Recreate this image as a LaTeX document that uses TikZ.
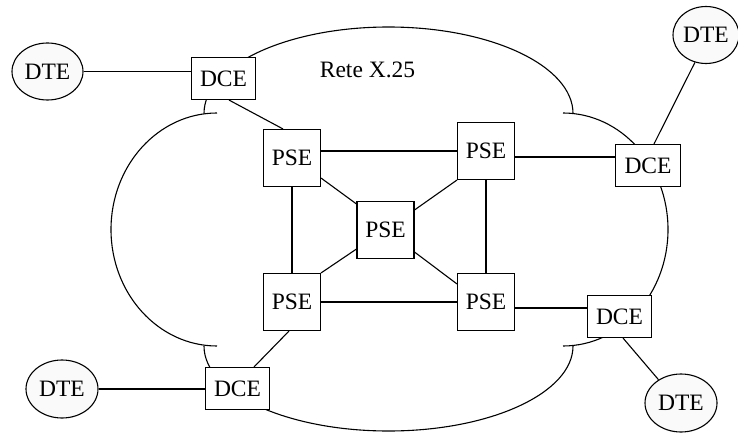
\documentclass[tikz,border=0pt]{standalone}
\usepackage{fontspec}
\setmainfont{Liberation Serif}
\usetikzlibrary{shapes.geometric}
\begin{document}
\begin{tikzpicture}[x=1pt,y=1pt,line width=1.1pt,
  every node/.style={font=\fontsize{23.5}{26}\selectfont, inner sep=0pt},
  dce/.style={draw, fill=white, minimum width=64pt, minimum height=42pt},
  pse/.style={draw, fill=white, minimum width=57pt, minimum height=57pt},
  dte/.style={draw, ellipse, fill=gray!4, minimum width=71pt, minimum height=57pt}]
\clip (0,0) rectangle (738,432);
\useasboundingbox (0,0) rectangle (738,432);
% cloud
\draw (204,318.5) arc[start angle=180,end angle=0,x radius=184.5,y radius=86.5];
\draw (204,86) arc[start angle=180,end angle=360,x radius=184.5,y radius=85];
\draw (217,319) arc[start angle=90,end angle=270,x radius=106,y radius=116.5];
\draw (563,319) arc[start angle=90,end angle=-90,x radius=105,y radius=116.5];
% nodes
\node[dte] (DTE1) at (47.5,360.5) {DTE};
\node[dce] (DCE1) at (223.5,353.5) {DCE};
\node[anchor=base] (lbl) at (367.5,354) {Rete X.25};
\node[pse] (PSE1) at (292,274) {PSE};
\node[pse] (PSE2) at (486,281) {PSE};
\node[pse] (PSE3) at (385.5,202) {PSE};
\node[pse] (PSE4) at (292,130) {PSE};
\node[pse] (PSE5) at (486,130) {PSE};
\node[dce, minimum width=65pt] (DCE2) at (648,266.5) {DCE};
\node[dte, minimum width=66pt] (DTE2) at (706,397) {DTE};
\node[dce] (DCE3) at (619.5,115.5) {DCE};
\node[dte, minimum width=72pt, minimum height=58pt] (DTE3) at (681,29) {DTE};
\node[dce] (DCE4) at (237.5,43.5) {DCE};
\node[dte, minimum width=72pt, minimum height=58pt] (DTE4) at (62,43) {DTE};
% connectors
\coordinate (p2e) at ([yshift=-6pt]PSE2.east);
\coordinate (p5e) at ([yshift=-6pt]PSE5.east);
\draw (DTE1.east) -- (DTE1.east -| DCE1.west);
\draw ([xshift=5.5pt]DCE1.south) -- ([xshift=-9pt]PSE1.north);
\draw (PSE2.west -| PSE1.east) -- (PSE2.west);
\draw (PSE1.south) -- (PSE4.north);
\draw ([yshift=9pt]PSE1.south east) -- ([yshift=-3pt]PSE3.north west);
\draw (PSE2.south west) -- ([yshift=-9pt]PSE3.north east);
\draw (PSE2.south) -- (PSE5.north);
\draw (p2e) -- (p2e -| DCE2.west);
\draw ([xshift=6pt]DCE2.north) -- (DTE2.248);
\draw ([yshift=10pt]PSE3.south west) -- (PSE4.north east);
\draw ([yshift=7pt]PSE3.south east) -- ([yshift=-11pt]PSE5.north west);
\draw (PSE4.east) -- (PSE5.west);
\draw (p5e) -- (p5e -| DCE3.west);
\draw ([xshift=3.5pt]DCE3.south) -- (DTE3.134);
\draw ([xshift=-3pt]PSE4.south) -- ([xshift=16.5pt]DCE4.north);
\draw (DTE4.east) -- (DTE4.east -| DCE4.west);
\end{tikzpicture}
\end{document}
